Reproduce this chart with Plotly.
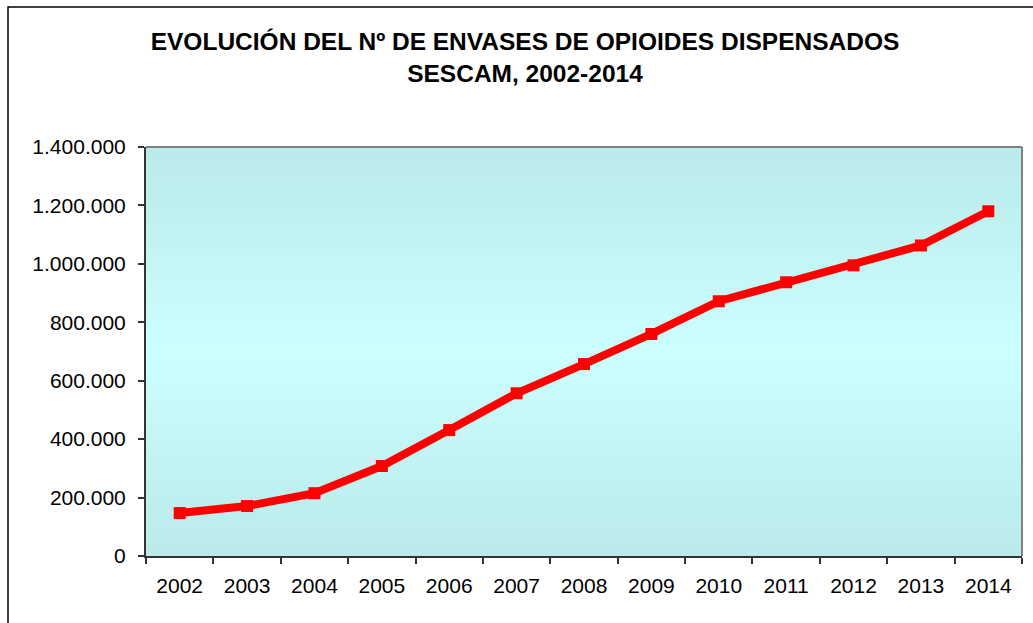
import plotly.graph_objects as go

years = ["2002", "2003", "2004", "2005", "2006", "2007", "2008",
         "2009", "2010", "2011", "2012", "2013", "2014"]
envases = [147000, 171000, 215000, 308000, 431000, 557000, 657000,
           760000, 872000, 937000, 995000, 1063000, 1180000]
y_ticks = [0, 200000, 400000, 600000, 800000, 1000000, 1200000, 1400000]

title_lines = ["EVOLUCIÓN DEL Nº DE ENVASES DE OPIOIDES DISPENSADOS",
               "SESCAM, 2002-2014"]

W, H = 1033, 623
L, R, T, B = 146, 11, 147, 67
pw, ph = W - L - R, H - T - B

fig = go.Figure()
fig.add_trace(go.Scatter(
    x=years, y=envases, mode="lines+markers",
    line=dict(color="#FF0000", width=8),
    marker=dict(symbol="square", size=12, color="#FF0000"),
    showlegend=False, hoverinfo="x+y"))

# gradient background of the plot area (edges darker, centre light cyan)
edge = (186, 234, 234)
mid = (204, 255, 255)
n = 60
shapes = []
for i in range(n):
    t = (i + 0.5) / n
    f = 1 - abs(2 * t - 1)
    c = tuple(round(edge[k] + (mid[k] - edge[k]) * f) for k in range(3))
    shapes.append(dict(type="rect", xref="paper", yref="paper",
                       x0=0, x1=1, y0=i / n, y1=(i + 1) / n + 0.002,
                       fillcolor="rgb(%d,%d,%d)" % c, line=dict(width=0),
                       layer="below"))

# gray top/right plot border
shapes.append(dict(type="line", xref="paper", yref="paper", x0=0, x1=1, y0=1, y1=1,
                   line=dict(color="#808080", width=2)))
shapes.append(dict(type="line", xref="paper", yref="paper", x0=1, x1=1, y0=0, y1=1,
                   line=dict(color="#808080", width=2)))

# outer chart frame
fx0 = (8 - L) / pw
fx1 = (W + 20 - L) / pw
fy1 = (H - B - 7) / ph
fy0 = (H - B - (H + 20)) / ph
shapes.append(dict(type="rect", xref="paper", yref="paper",
                   x0=fx0, x1=fx1, y0=fy0, y1=fy1,
                   line=dict(color="#000000", width=1.5), fillcolor="rgba(0,0,0,0)"))

fig.update_layout(
    width=W, height=H,
    margin=dict(l=L, r=R, t=T, b=B),
    paper_bgcolor="white",
    plot_bgcolor="rgb(204,255,255)",
    separators=",.",
    font=dict(family="Liberation Sans, Arial, sans-serif", color="#000000", size=21),
    title=dict(text="<b>" + title_lines[0] + "</b><br><b>" + title_lines[1] + "</b>",
               x=525 / W, xref="container", xanchor="center",
               y=1 - 50 / H, yref="container", yanchor="top",
               font=dict(size=24.5, family="Liberation Sans, Arial, sans-serif", color="#000")),
    shapes=shapes,
)

fig.update_xaxes(
    type="category", showgrid=False, showline=True, linecolor="#333333", linewidth=2,
    ticks="outside", tickson="boundaries", ticklen=6, tickcolor="#333333", tickwidth=1.5,
    ticklabelstandoff=10, tickfont=dict(size=21), range=[-0.5, 12.5])
fig.update_yaxes(
    range=[0, 1400000], tickvals=y_ticks, tickformat=",d", showgrid=False,
    zeroline=False, showline=True, linecolor="#333333", linewidth=2,
    ticks="outside", ticklen=6, tickcolor="#333333", tickwidth=1.5,
    ticklabelstandoff=8, tickfont=dict(size=21))

fig.write_html("out.html", config={"displayModeBar": False},
               post_script="document.body.style.margin='0';")
